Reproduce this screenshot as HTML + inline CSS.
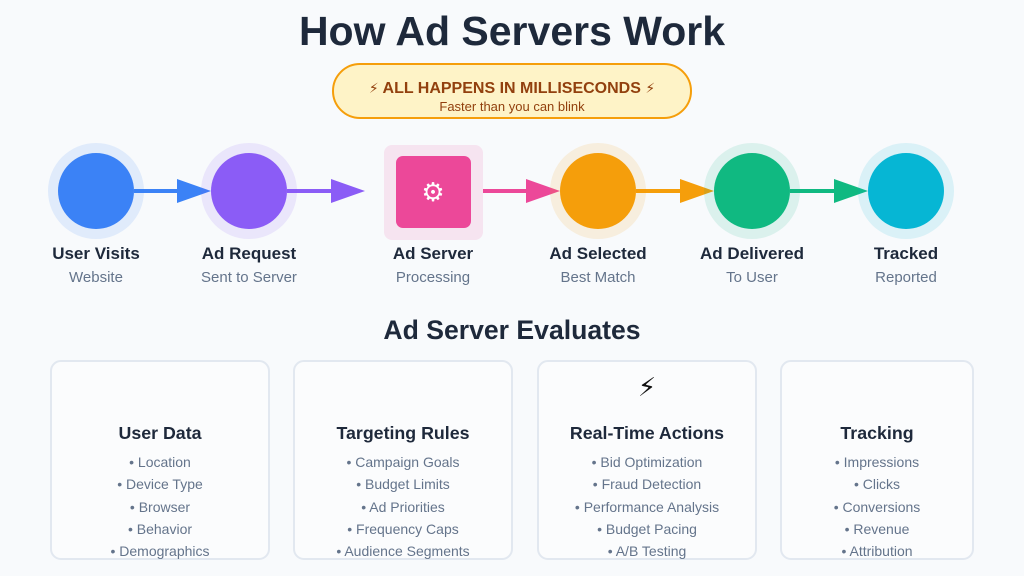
<!DOCTYPE html>
<html><head><meta charset="utf-8"><style>
html,body{margin:0;padding:0;background:#f8fafc;}
svg{display:block;font-family:"Liberation Sans",sans-serif;}
</style></head><body>
<svg width="1024" height="576" viewBox="0 0 1024 576">
<rect width="1024" height="576" fill="#f8fafc"/>
<text x="512" y="45" text-anchor="middle" font-size="41" font-weight="bold" fill="#1e293b">How Ad Servers Work</text>
<rect x="333" y="64" width="358" height="54" rx="27" fill="#fef3c7" stroke="#f59e0b" stroke-width="2"/>
<text x="512" y="93" text-anchor="middle" font-size="16" font-weight="bold" fill="#92400e"><tspan font-family="DejaVu Sans" font-weight="normal" font-size="14">⚡︎</tspan> ALL HAPPENS IN MILLISECONDS <tspan font-family="DejaVu Sans" font-weight="normal" font-size="14">⚡︎</tspan></text>
<text x="512" y="111" text-anchor="middle" font-size="13" fill="#92400e">Faster than you can blink</text>

<g stroke-width="4">
<line x1="134" y1="191" x2="180" y2="191" stroke="#3b82f6"/>
<line x1="287" y1="191" x2="335" y2="191" stroke="#8b5cf6"/>
<line x1="483" y1="191" x2="530" y2="191" stroke="#ec4899"/>
<line x1="636" y1="191" x2="684" y2="191" stroke="#f59e0b"/>
<line x1="790" y1="191" x2="838" y2="191" stroke="#10b981"/>
</g>
<polygon points="177,179 211,191 177,203" fill="#3b82f6"/>
<polygon points="331,179 365,191 331,203" fill="#8b5cf6"/>
<polygon points="526,179 560,191 526,203" fill="#ec4899"/>
<polygon points="680,179 714,191 680,203" fill="#f59e0b"/>
<polygon points="834,179 868,191 834,203" fill="#10b981"/>

<circle cx="96" cy="191" r="48" fill="#3b82f6" opacity="0.12"/>
<circle cx="96" cy="191" r="38" fill="#3b82f6"/>
<circle cx="249" cy="191" r="48" fill="#8b5cf6" opacity="0.12"/>
<circle cx="249" cy="191" r="38" fill="#8b5cf6"/>
<rect x="384" y="145" width="99" height="95" rx="8" fill="#ec4899" opacity="0.12"/>
<rect x="396" y="156" width="75" height="72" rx="7" fill="#ec4899"/>
<text x="433" y="201" text-anchor="middle" font-size="26" fill="#fff" font-family="DejaVu Sans">⚙</text>
<circle cx="598" cy="191" r="48" fill="#f59e0b" opacity="0.12"/>
<circle cx="598" cy="191" r="38" fill="#f59e0b"/>
<circle cx="752" cy="191" r="48" fill="#10b981" opacity="0.12"/>
<circle cx="752" cy="191" r="38" fill="#10b981"/>
<circle cx="906" cy="191" r="48" fill="#06b6d4" opacity="0.12"/>
<circle cx="906" cy="191" r="38" fill="#06b6d4"/>

<g text-anchor="middle">
<g font-size="17" font-weight="bold" fill="#1e293b">
<text x="96" y="259">User Visits</text>
<text x="249" y="259">Ad Request</text>
<text x="433" y="259">Ad Server</text>
<text x="598" y="259">Ad Selected</text>
<text x="752" y="259">Ad Delivered</text>
<text x="906" y="259">Tracked</text>
</g>
<g font-size="15" fill="#64748b">
<text x="96" y="282">Website</text>
<text x="249" y="282">Sent to Server</text>
<text x="433" y="282">Processing</text>
<text x="598" y="282">Best Match</text>
<text x="752" y="282">To User</text>
<text x="906" y="282">Reported</text>
</g>
<text x="512" y="339" font-size="26.6" font-weight="bold" fill="#1e293b">Ad Server Evaluates</text>

<g fill="#fbfcfd" stroke="#e2e8f0" stroke-width="2">
<rect x="51" y="361" width="218" height="198" rx="10"/>
<rect x="294" y="361" width="218" height="198" rx="10"/>
<rect x="538" y="361" width="218" height="198" rx="10"/>
<rect x="781" y="361" width="192" height="198" rx="10"/>
</g>
<text x="647" y="396" font-size="26" fill="#111" font-family="DejaVu Sans">⚡︎</text>
<g font-size="17.8" font-weight="bold" fill="#1e293b">
<text x="160" y="439">User Data</text>
<text x="403" y="439">Targeting Rules</text>
<text x="647" y="439">Real-Time Actions</text>
<text x="877" y="439">Tracking</text>
</g>
<g font-size="14" fill="#64748b">
<text x="160" y="467">• Location</text><text x="160" y="489">• Device Type</text><text x="160" y="512">• Browser</text><text x="160" y="534">• Behavior</text><text x="160" y="556">• Demographics</text>
<text x="403" y="467">• Campaign Goals</text><text x="403" y="489">• Budget Limits</text><text x="403" y="512">• Ad Priorities</text><text x="403" y="534">• Frequency Caps</text><text x="403" y="556">• Audience Segments</text>
<text x="647" y="467">• Bid Optimization</text><text x="647" y="489">• Fraud Detection</text><text x="647" y="512">• Performance Analysis</text><text x="647" y="534">• Budget Pacing</text><text x="647" y="556">• A/B Testing</text>
<text x="877" y="467">• Impressions</text><text x="877" y="489">• Clicks</text><text x="877" y="512">• Conversions</text><text x="877" y="534">• Revenue</text><text x="877" y="556">• Attribution</text>
</g>
</g>
</svg>
</body></html>
